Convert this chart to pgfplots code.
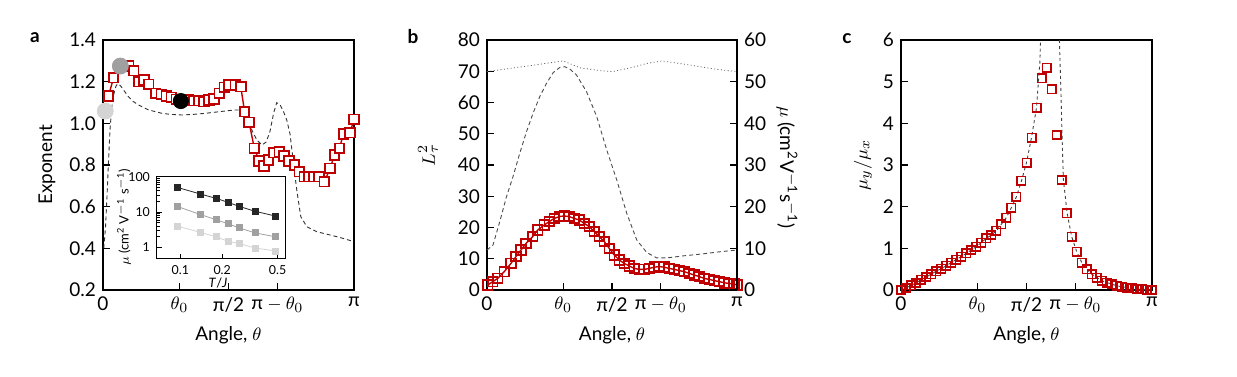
\documentclass[border=0pt]{standalone}
\usepackage{fontspec}
\setmainfont{Lato}
\usepackage{pgfplots}
\pgfplotsset{compat=1.18}
\definecolor{dred}{RGB}{192,0,0}
\definecolor{cgray}{RGB}{160,160,160}
\definecolor{clgray}{RGB}{212,212,212}
\newcommand{\fs}{\fontsize{9.5}{11.4}\selectfont}
\newcommand{\fss}{\fontsize{6.2}{7.4}\selectfont}
\newcommand{\fsl}{\fontsize{6.5}{7.8}\selectfont}
\pgfplotsset{
  panel/.style={
    scale only axis, height=125pt, xmin=0, xmax=1, anchor=south west, clip=false,
    axis line style={line width=0.6pt},
    every tick/.style={line width=0.6pt, draw=black},
    major tick length=3.5pt, tick align=inside,
    xtick={0,0.305,0.5,0.695,1},
    xticklabels={0,{$\theta_0$},{π/2},{π${}-\theta_0$},π},
    xtick pos=left, ytick pos=left,
    tick label style={font=\fs}, label style={font=\fs},
    /pgf/number format/assume math mode=true,
    xlabel={Angle, $\theta$},
    xlabel style={at={(axis description cs:0.5,-0.18)}, anchor=center},
  },
}
\begin{document}
\begin{tikzpicture}
\useasboundingbox (0,0) rectangle (618.5pt,188pt);
% ---------------- panel a ----------------
\begin{axis}[panel, at={(51.5pt,43pt)}, width=125.5pt,
  ymin=0.2, ymax=1.4, ytick={0.2,0.4,0.6,0.8,1.0,1.2,1.4},
  yticklabel style={/pgf/number format/.cd,fixed,fixed zerofill,precision=1},
  ylabel={Exponent},
  ylabel style={at={(axis description cs:-0.223,0.5)}, anchor=center}]
\addplot[draw=black!80, line width=0.45pt, dash pattern=on 2pt off 1.5pt] coordinates {
(0.003,0.40) (0.010,0.50) (0.016,0.65) (0.022,0.82) (0.028,0.97) (0.035,1.08)
(0.043,1.14) (0.052,1.18) (0.060,1.19) (0.070,1.18) (0.085,1.155) (0.10,1.13)
(0.12,1.105) (0.142,1.088) (0.18,1.065) (0.235,1.048) (0.27,1.043) (0.314,1.040)
(0.36,1.043) (0.407,1.048) (0.45,1.054) (0.5,1.061) (0.527,1.064) (0.549,1.064)
(0.573,1.032) (0.593,0.968) (0.613,0.92) (0.633,0.896) (0.65,0.91) (0.665,0.96)
(0.68,1.05) (0.692,1.099) (0.705,1.09) (0.718,1.06) (0.732,1.016) (0.745,0.95)
(0.759,0.808) (0.772,0.68) (0.788,0.552) (0.812,0.504) (0.851,0.48) (0.905,0.464)
(0.95,0.45) (1.0,0.432)};
\addplot[draw=dred, line width=0.7pt, mark=square*, mark size=2.4pt,
  mark options={solid, draw=dred, fill=white, line width=0.9pt}] coordinates {
(0.022,1.131) (0.042,1.219) (0.102,1.275) (0.122,1.253) (0.142,1.200) (0.164,1.208)
(0.182,1.187) (0.210,1.144) (0.232,1.139) (0.252,1.131) (0.272,1.125) (0.292,1.115)
(0.341,1.112) (0.363,1.109) (0.383,1.109) (0.403,1.104) (0.423,1.112) (0.443,1.117)
(0.463,1.144) (0.483,1.173) (0.500,1.184) (0.527,1.184) (0.549,1.176) (0.564,1.056)
(0.582,1.005) (0.603,0.880) (0.622,0.819) (0.642,0.795) (0.659,0.824) (0.679,0.859)
(0.702,0.864) (0.721,0.843) (0.741,0.819) (0.763,0.800) (0.782,0.768) (0.802,0.744)
(0.821,0.744) (0.841,0.744) (0.861,0.744) (0.882,0.720) (0.905,0.784) (0.922,0.848)
(0.942,0.880) (0.958,0.949) (0.984,0.955) (1.0,1.019)};
\addplot[only marks, mark=*, mark size=4pt, mark options={draw=clgray, fill=clgray}] coordinates {(0.009,1.059)};
\addplot[only marks, mark=*, mark size=4pt, mark options={draw=cgray, fill=cgray}] coordinates {(0.069,1.275)};
\addplot[only marks, mark=*, mark size=3.8pt, mark options={draw=black, fill=black}] coordinates {(0.310,1.107)};
\node[font=\bfseries\fs] at (axis description cs:-0.271,1.008) {a};
\end{axis}
% ---------------- inset ----------------
\begin{axis}[scale only axis, at={(78.5pt,58.75pt)}, anchor=south west,
  width=64.25pt, height=41.25pt, xmode=log, ymode=log,
  xmin=0.068, xmax=0.57, ymin=0.49, ymax=105,
  xtick={0.1,0.2,0.5}, xticklabels={0.1,0.2,0.5},
  ytick={1,10,100}, yticklabels={1,10,100}, minor xtick={},
  tick align=inside, xtick pos=left, ytick pos=left,
  axis background/.style={fill=white},
  axis line style={line width=0.5pt},
  every tick/.style={line width=0.4pt, draw=black},
  major tick length=2.5pt, minor tick length=1.5pt,
  tick label style={font=\fss}, label style={font=\fsl},
  xlabel={\textit{T}/\textit{J}},
  ylabel={$\mu$ (cm\textsuperscript{2} V\textsuperscript{$-$1} s\textsuperscript{$-$1})},
  xlabel style={at={(axis description cs:0.475,-0.30)}, anchor=center},
  ylabel style={at={(axis description cs:-0.257,0.5)}, anchor=center}]
\addplot[draw=black!85, line width=0.4pt, mark=square*, mark size=1.5pt, mark options={draw=black!85, fill=black!85}] coordinates {
(0.0956,49.8) (0.139,32.6) (0.181,24.5) (0.221,18.9) (0.264,14.6) (0.344,10.6) (0.486,7.7)};
\addplot[draw=cgray, line width=0.4pt, mark=square*, mark size=1.5pt, mark options={draw=cgray, fill=cgray}] coordinates {
(0.0956,14.4) (0.139,8.6) (0.181,6.1) (0.221,4.7) (0.264,3.6) (0.344,2.6) (0.486,2.0)};
\addplot[draw=clgray, line width=0.4pt, mark=square*, mark size=1.5pt, mark options={draw=clgray, fill=clgray}] coordinates {
(0.0956,4.0) (0.139,2.7) (0.181,2.0) (0.221,1.5) (0.264,1.3) (0.344,0.97) (0.486,0.80)};
\end{axis}
% ---------------- panel b ----------------
\begin{axis}[panel, at={(243.5pt,43pt)}, width=125pt,
  ymin=0, ymax=80, ytick={0,10,20,30,40,50,60,70,80},
  ylabel={$L_\tau^2$},
  ylabel style={at={(axis description cs:-0.236,0.54)}, anchor=center}]
\addplot[draw=black!60, line width=0.4pt, dash pattern=on 0.5pt off 1.2pt] coordinates {
(0,69.9) (0.1,71.0) (0.2,72.1) (0.305,73.3) (0.372,71.1) (0.452,70.2) (0.503,69.9)
(0.585,71.3) (0.64,72.5) (0.70,73.3) (0.786,72.3) (0.92,70.6) (1,69.9)};
\addplot[draw=dred, line width=0.7pt, mark=square, mark size=2.4pt,
  mark options={solid, draw=dred, line width=0.9pt}] coordinates {
(0.003,1.6) (0.023,2.67) (0.043,3.73) (0.069,5.87) (0.096,8.53) (0.116,10.7)
(0.136,12.8) (0.156,14.9) (0.183,17.1) (0.203,19.2) (0.229,20.8) (0.249,21.9)
(0.269,22.9) (0.289,23.5) (0.309,23.7) (0.329,23.5) (0.349,22.9) (0.369,22.4)
(0.389,21.3) (0.409,20.3) (0.429,18.7) (0.449,17.1) (0.469,15.5) (0.489,13.3)
(0.509,11.2) (0.529,9.6) (0.549,8.5) (0.569,7.7) (0.589,6.9) (0.609,6.6)
(0.629,6.6) (0.649,6.9) (0.669,7.3) (0.689,7.5) (0.709,7.3) (0.729,6.9)
(0.749,6.6) (0.769,6.2) (0.789,5.9) (0.809,5.3) (0.829,4.8) (0.849,4.3)
(0.869,3.7) (0.889,3.4) (0.909,3.0) (0.929,2.7) (0.949,2.3) (0.969,2.1)
(0.989,1.9) (1.0,1.6)};
\node[font=\bfseries\fs] at (axis description cs:-0.296,1.012) {b};
\end{axis}
\begin{axis}[panel, at={(243.5pt,43pt)}, width=125pt,
  ymin=0, ymax=60, ytick={0,10,20,30,40,50,60},
  axis y line*=right, axis x line=none, ytick pos=right,
  xlabel={}, 
  ylabel={$\mu$ (cm\textsuperscript{2}V\textsuperscript{$-$1}s\textsuperscript{$-$1})},
  ylabel style={at={(axis description cs:1.2,0.49)}, anchor=center, rotate=180}]
\addplot[draw=black!70, line width=0.45pt, dash pattern=on 2pt off 1.5pt] coordinates {
(0,9.6) (0.024,10.8) (0.051,16.4) (0.078,22.4) (0.104,27.2) (0.131,32.8) (0.158,38.0)
(0.184,42.4) (0.211,46.4) (0.238,49.6) (0.265,52.2) (0.291,53.4) (0.311,53.6)
(0.332,53.0) (0.358,51.6) (0.398,47.6) (0.439,41.6) (0.479,33.6) (0.519,26.4)
(0.559,18.4) (0.599,12.0) (0.639,9.0) (0.679,7.7) (0.719,7.7) (0.786,8.2)
(0.853,8.6) (0.920,9.1) (1,9.6)};
\end{axis}
% ---------------- panel c ----------------
\begin{axis}[panel, at={(450.5pt,43pt)}, width=125.5pt,
  ymin=0, ymax=6, ytick={0,1,2,3,4,5,6},
  ylabel={$\mu_y/\mu_x$},
  ylabel style={at={(axis description cs:-0.151,0.5)}, anchor=center}]
\addplot[draw=black!75, line width=0.45pt, dash pattern=on 1.5pt off 1.5pt] coordinates {
(0,0) (0.02,0.05) (0.04,0.11) (0.06,0.17) (0.08,0.25) (0.10,0.31) (0.12,0.38)
(0.14,0.45) (0.16,0.51) (0.18,0.58) (0.20,0.66) (0.22,0.73) (0.24,0.80) (0.26,0.88)
(0.28,0.96) (0.30,1.04) (0.32,1.14) (0.34,1.24) (0.36,1.32) (0.38,1.42) (0.40,1.58)
(0.42,1.74) (0.44,1.98) (0.46,2.24) (0.48,2.62) (0.50,3.06) (0.52,3.66) (0.54,4.38)
(0.547,4.96) (0.553,5.44) (0.556,6.0)};
\addplot[draw=black!75, line width=0.45pt, dash pattern=on 1.5pt off 1.5pt] coordinates {
(0.631,6.0) (0.637,4.8) (0.641,3.84) (0.647,2.64) (0.662,1.84) (0.68,1.28) (0.70,0.92)
(0.72,0.66) (0.74,0.50) (0.76,0.38) (0.80,0.22) (0.86,0.10) (0.92,0.04) (1,0)};
\addplot[only marks, mark=square, mark size=2.1pt, mark options={draw=dred, line width=0.8pt}] coordinates {
(0,0) (0.02,0.05) (0.04,0.11) (0.06,0.17) (0.08,0.25) (0.10,0.31) (0.12,0.38)
(0.14,0.45) (0.16,0.51) (0.18,0.58) (0.20,0.66) (0.22,0.73) (0.24,0.80) (0.26,0.88)
(0.28,0.96) (0.30,1.04) (0.32,1.14) (0.34,1.24) (0.36,1.32) (0.38,1.42) (0.40,1.58)
(0.42,1.74) (0.44,1.98) (0.46,2.24) (0.48,2.62) (0.50,3.06) (0.52,3.66) (0.54,4.38)
(0.56,5.08) (0.58,5.34) (0.60,4.82) (0.62,3.72) (0.64,2.64) (0.66,1.84) (0.68,1.28)
(0.70,0.92) (0.72,0.66) (0.74,0.50) (0.76,0.38) (0.78,0.30) (0.80,0.22) (0.82,0.18)
(0.84,0.14) (0.86,0.10) (0.88,0.08) (0.90,0.06) (0.92,0.04) (0.94,0.024) (0.96,0.016)
(0.98,0.008) (1.0,0.0)};
\node[font=\bfseries\fs] at (axis description cs:-0.215,1.004) {c};
\end{axis}
\end{tikzpicture}
\end{document}
